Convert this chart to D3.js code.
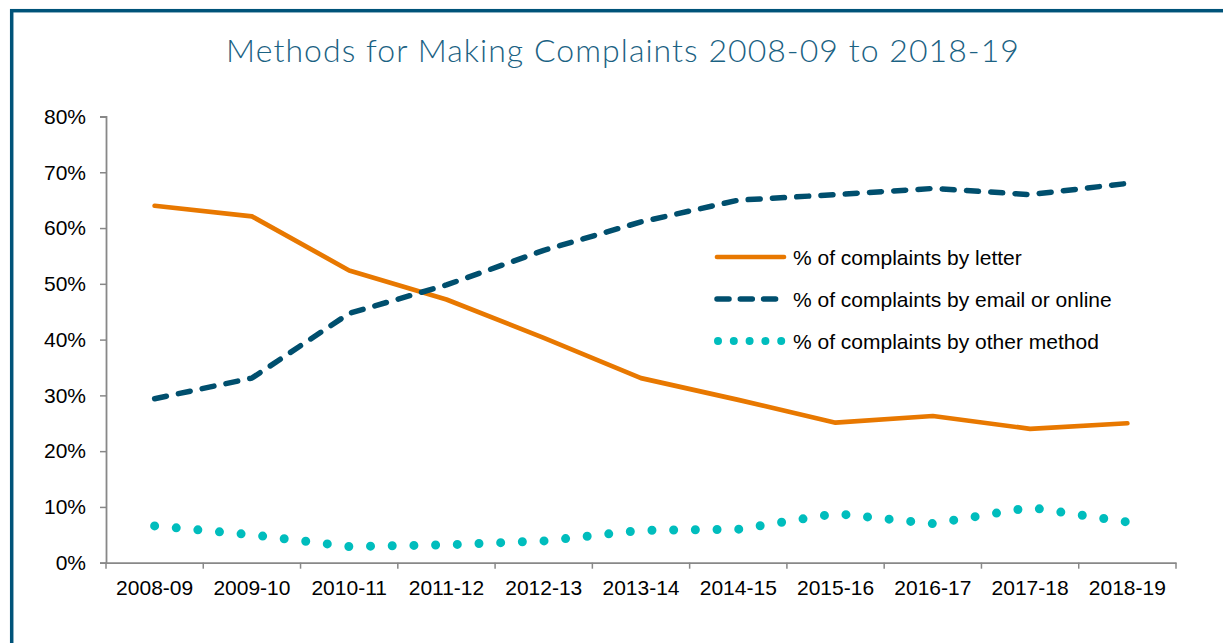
<!DOCTYPE html>
<html>
<head>
<meta charset="utf-8">
<script src="https://cdn.jsdelivr.net/npm/d3@7"></script>
<style>
  body { margin: 0; background: #fff; }
  svg { display: block; }
</style>
</head>
<body>
<div id="chart"></div>
<script>
const years = ["2008-09", "2009-10", "2010-11", "2011-12", "2012-13", "2013-14",
  "2014-15", "2015-16", "2016-17", "2017-18", "2018-19"]
const letter = [64, 62.1, 52.4, 47.2, 40.3, 33.1, 29.2, 25.1, 26.3, 24, 25]
const email = [29.4, 33.1, 44.7, 49.8, 56, 61.1, 65, 66, 67.1, 66, 68]
const other = [6.6, 5.0, 2.9, 3.2, 3.9, 5.8, 6.0, 8.8, 7.0, 9.9, 7.3]
const yTicks = [0, 10, 20, 30, 40, 50, 60, 70, 80]
const seriesNames = ["% of complaints by letter", "% of complaints by email or online",
  "% of complaints by other method"]

const W = 1223, H = 643
const PLOT = { LEFT: 106, RIGHT: 1176, TOP: 116.5, BOTTOM: 562.7 }

const svg = d3.select("#chart").append("svg")
  .attr("width", W)
  .attr("height", H)

// frame
svg.append("rect")
  .attr("x", 11.7).attr("y", 10.7)
  .attr("width", W + 20).attr("height", H + 20)
  .attr("fill", "none")
  .attr("stroke", "#005379")
  .attr("stroke-width", 3.5)

svg.append("text")
  .attr("x", 623)
  .attr("y", 62)
  .attr("text-anchor", "middle")
  .style("font-family", "Lato, 'Noto Sans', sans-serif")
  .style("font-weight", 300)
  .style("font-size", "32px")
  .style("letter-spacing", "1.05px")
  .style("fill", "#1b6283")
  .text("Methods for Making Complaints 2008-09 to 2018-19")

const x = d3.scaleBand()
  .domain(years)
  .range([PLOT.LEFT, PLOT.RIGHT])

const y = d3.scaleLinear()
  .domain([0, 80])
  .range([PLOT.BOTTOM, PLOT.TOP])

const font = "'Liberation Sans', Arial, sans-serif"

// y axis
const yAxis = svg.append("g")
  .attr("transform", `translate(${PLOT.LEFT},0)`)
  .call(d3.axisLeft(y).tickValues(yTicks).tickFormat(d => d + "%").tickSize(6).tickPadding(14))
yAxis.selectAll("text").style("font-family", font).style("font-size", "21px").style("fill", "#000")

// x axis: labels at band centres, ticks at band edges
const xAxis = svg.append("g")
  .attr("transform", `translate(0,${PLOT.BOTTOM})`)
  .call(d3.axisBottom(x).tickSize(0).tickPadding(17))
xAxis.selectAll("text").style("font-family", font).style("font-size", "21px").style("fill", "#000")
xAxis.selectAll(".tick line").remove()
xAxis.selectAll(".edge")
  .data(years.map(d => x(d)).concat([x.range()[1]]))
  .enter().append("line")
  .attr("x1", d => d).attr("x2", d => d)
  .attr("y1", 0).attr("y2", 6)
  .attr("stroke", "#888").attr("stroke-width", 1.5)

svg.selectAll(".domain").attr("stroke", "#888").attr("stroke-width", 1.8)
yAxis.selectAll(".tick line").attr("stroke", "#888").attr("stroke-width", 1.5)

const cx = d => x(d) + x.bandwidth() / 2

const line = d3.line()
  .x((d, i) => cx(years[i]))
  .y(d => y(d))

const styles = [
  { data: letter, color: "#e87800", width: 4.7, dash: null },
  { data: email, color: "#004f6e", width: 5.5, dash: "12 12.3" },
  { data: other, color: "#00bdbd", width: 9, dash: "0 21.7" }
]

svg.selectAll(".series")
  .data(styles)
  .enter().append("path")
  .attr("class", "series")
  .attr("d", d => line(d.data))
  .attr("fill", "none")
  .attr("stroke", d => d.color)
  .attr("stroke-width", d => d.width)
  .attr("stroke-dasharray", d => d.dash)
  .attr("stroke-linecap", "round")
  .attr("stroke-linejoin", "round")

// legend
const legendStyles = [
  { color: "#e87800", width: 4.7, dash: null },
  { color: "#004f6e", width: 5.5, dash: "12 11.3" },
  { color: "#00bdbd", width: 8, dash: "0 15.8" }
]
const lg = svg.append("g").attr("transform", "translate(717,257)")
const rows = lg.selectAll("g")
  .data(seriesNames)
  .enter().append("g")
  .attr("transform", (d, i) => `translate(0,${i * 42})`)
rows.append("line")
  .attr("x1", (d, i) => i == 2 ? 1 : 0)
  .attr("x2", 67)
  .attr("y1", 0).attr("y2", 0)
  .attr("stroke", (d, i) => legendStyles[i].color)
  .attr("stroke-width", (d, i) => legendStyles[i].width)
  .attr("stroke-dasharray", (d, i) => legendStyles[i].dash)
  .attr("stroke-linecap", "round")
rows.append("text")
  .attr("x", 76)
  .attr("y", 7.5)
  .style("font-family", font)
  .style("font-size", "21px")
  .style("fill", "#000")
  .text(d => d)
</script>
</body>
</html>
